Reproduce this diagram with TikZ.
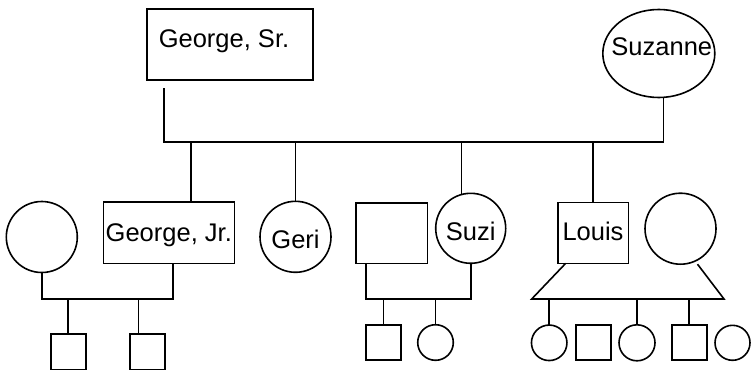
\documentclass[tikz,border=0pt]{standalone}
\usepackage{fontspec}
\setmainfont{Liberation Sans}
\usetikzlibrary{calc,shapes.geometric}
\begin{document}
\begin{tikzpicture}[x=1pt,y=-1pt,
  every node/.style={font=\fontsize{25.5}{30}\selectfont, inner sep=0pt, outer sep=0pt},
  male/.style={draw, rectangle, line width=1.6pt},
  female/.style={draw, circle, line width=1.6pt},
  ln/.style={line width=1.6pt},
  tb/.style={text height=#1, text depth=0pt}]
\useasboundingbox (0,0) rectangle (751,369);
% generation 1
\node[male, minimum width=166pt, minimum height=71pt, tb=7pt] (gs) at (230,44.5) {\makebox[0pt]{George, Sr.\hspace{12pt}}};
\node[draw, ellipse, line width=1.6pt, minimum width=112pt, minimum height=88pt, tb=5pt] (suz) at (658.8,53.5) {\makebox[0pt]{\hspace{6pt}Suzanne}};
% generation 2
\node[female, minimum size=71pt] (ls) at (41.8,237) {};
\node[male, minimum width=131pt, minimum height=61.6pt, tb=18pt] (gj) at (168.8,232.6) {\makebox[0pt]{George, Jr.}};
\node[female, minimum size=71pt, tb=23pt] (geri) at (295.5,236.8) {\makebox[0pt]{Geri}};
\node[male, minimum width=71.3pt, minimum height=60.6pt] (sh) at (391.7,233) {};
\node[female, minimum size=70pt, tb=23.4pt] (suzi) at (470.7,228.3) {\makebox[0pt]{Suzi}};
\node[male, minimum width=70.6pt, minimum height=61pt, tb=16pt] (louis) at (593,232.8) {\makebox[0pt]{Louis}};
\node[female, minimum size=71pt] (lw) at (680.5,228.7) {};
% generation 3
\node[male, minimum width=35pt, minimum height=36pt] (k1) at (68.2,352) {};
\node[male, minimum width=35pt, minimum height=36pt] (k2) at (147.2,352) {};
\node[male, minimum size=35pt] (k3) at (383.5,342.5) {};
\node[female, minimum size=35.6pt] (k4) at (435.5,342.5) {};
\node[female, minimum size=35.5pt] (k5) at (549.2,342.8) {};
\node[male, minimum size=35pt] (k6) at (593.2,342.2) {};
\node[female, minimum size=36pt] (k7) at (637,342.8) {};
\node[male, minimum size=35pt] (k8) at (689.2,342.2) {};
\node[female, minimum size=35pt] (k9) at (732.5,342.8) {};
% sibship of generation 2
\coordinate (sibL) at (164,142);
\coordinate (sibR) at (663.3,142);
\draw[ln] ($(gs.south west)+(17,8)$) -- (sibL) -- (sibR) -- ($(suz.south)+(4.5,0)$);
\coordinate (d1) at (191,142);
\draw[ln] (d1) -- (d1 |- gj.north);
\draw[ln] (geri.north |- sibL) -- (geri.north);
\draw[ln] (suzi.105 |- sibL) -- (suzi.105);
\draw[ln] (louis.north |- sibL) -- (louis.north);
% couple 1
\coordinate (c1r) at (172.7,299);
\draw[ln] (ls.south) |- (c1r) -- (c1r |- gj.south);
\draw[ln] (k1.north |- c1r) -- (k1.north);
\coordinate (k2d) at (138.3,299);
\draw[ln] (k2d) -- (k2d |- k2.north);
% couple 2
\coordinate (c2l) at (365.7,299);
\draw[ln] (c2l |- sh.south) -- (c2l) -| (suzi.south);
\draw[ln] (k3.north |- c2l) -- (k3.north);
\draw[ln] (k4.north |- c2l) -- (k4.north);
% couple 3
\coordinate (t1) at (531.7,299);
\coordinate (t2) at (724,299);
\draw[ln] ($(louis.south west)+(8,0)$) -- (t1) -- (t2) -- ($(lw.south)+(17,0)$);
\draw[ln] (k5.north |- t1) -- (k5.north);
\draw[ln] (k7.north |- t1) -- (k7.north);
\draw[ln] (k8.north |- t1) -- (k8.north);
\end{tikzpicture}
\end{document}
